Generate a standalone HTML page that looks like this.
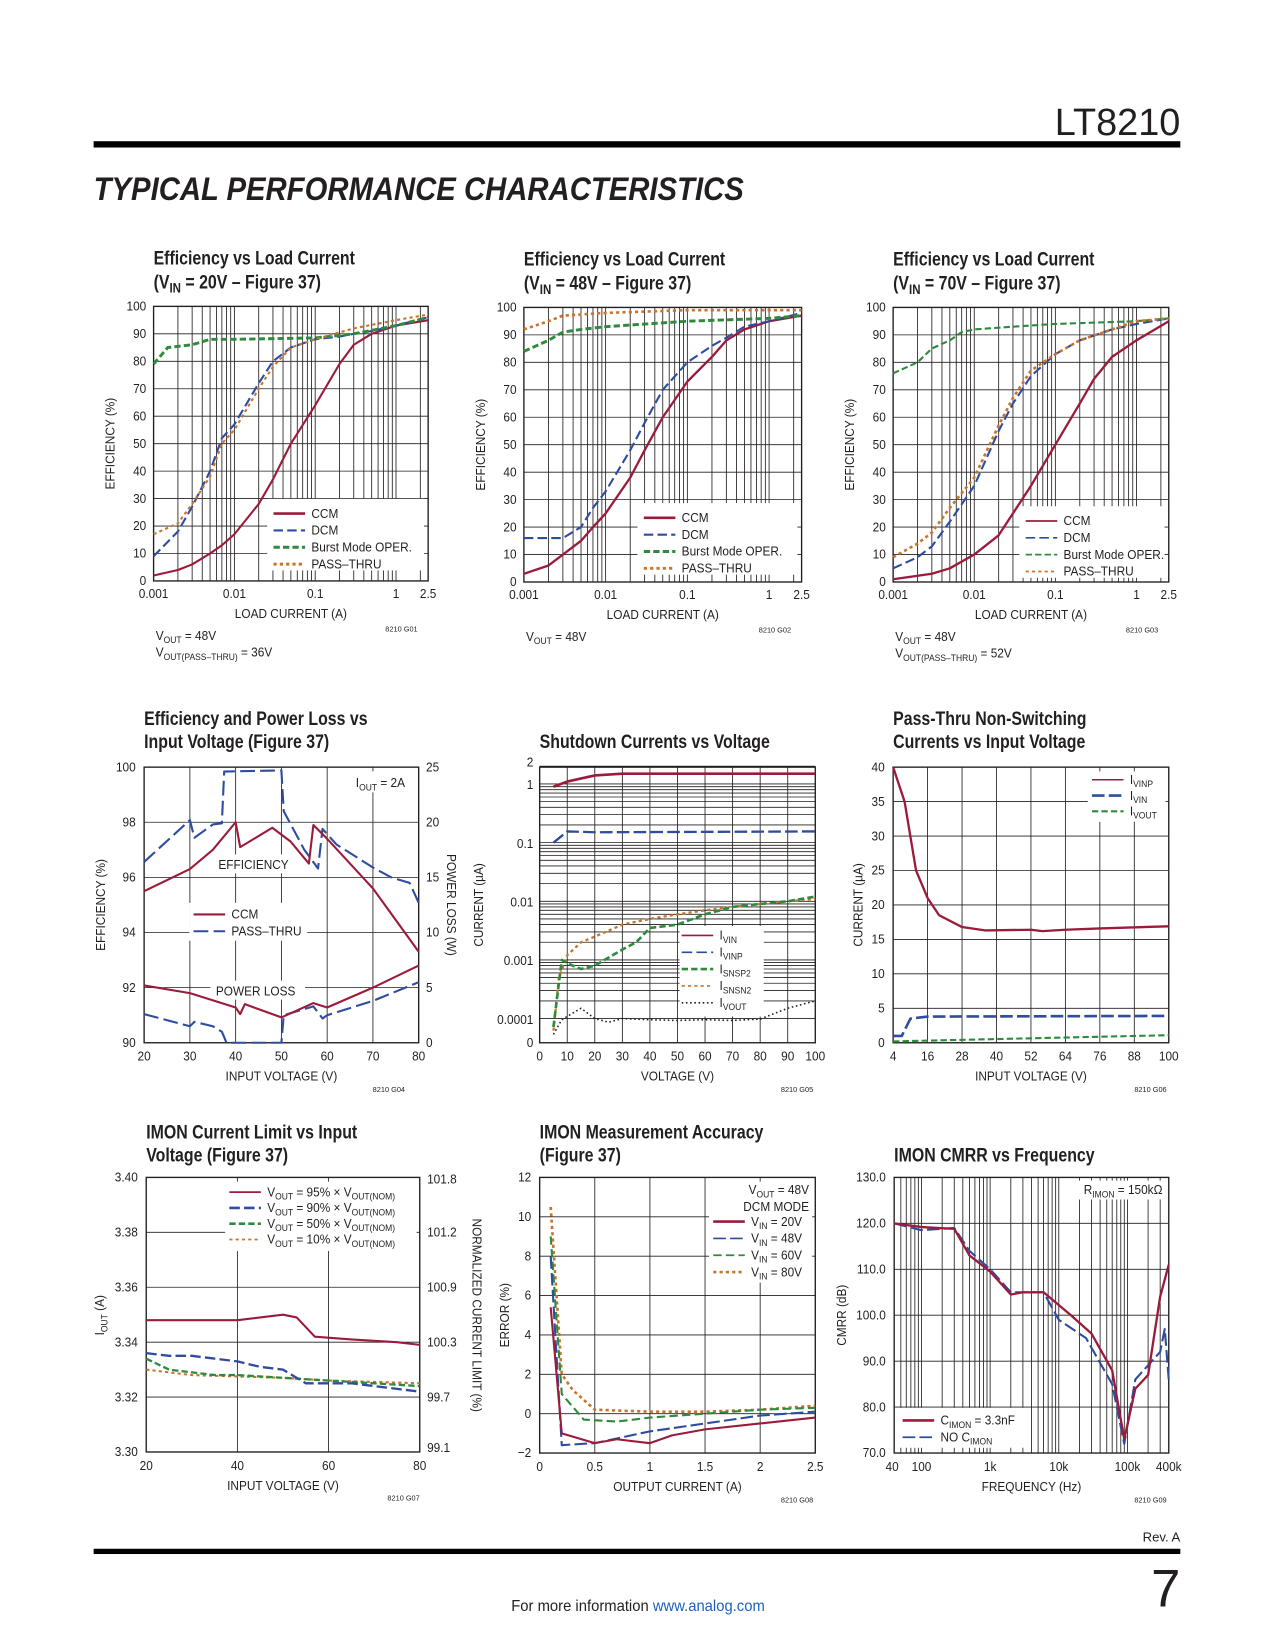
<!DOCTYPE html>
<html><head><meta charset="utf-8">
<style>
html,body{margin:0;padding:0;background:#fff;}
svg{display:block;}
text{font-family:"Liberation Sans Narrow","Liberation Sans",sans-serif;fill:#231f20;}
.t{font-weight:bold;font-size:18px;}
.k{font-size:12.5px;}
.s{font-size:7px;}
</style></head>
<body>
<svg id="pg" width="1275" height="1650" viewBox="0 0 1212 1568" xmlns="http://www.w3.org/2000/svg">
<text x="1122" y="128" text-anchor="end" style="font-size:36px;font-family:'Liberation Sans',sans-serif">LT8210</text>
<rect x="89" y="134" width="1033" height="6" fill="#000"/>
<text x="89" y="190" textLength="618" lengthAdjust="spacingAndGlyphs" style="font-size:31px;font-weight:900;font-style:italic;font-family:'Liberation Sans',sans-serif">TYPICAL PERFORMANCE CHARACTERISTICS</text>
<rect x="89" y="1472" width="1033" height="5" fill="#000"/>
<text x="1122" y="1465" text-anchor="end" class="k">Rev. A</text>
<text x="1122" y="1527" text-anchor="end" style="font-size:50px;font-family:'Liberation Sans',sans-serif">7</text>
<text x="486" y="1531" style="font-size:15px" textLength="241" lengthAdjust="spacingAndGlyphs">For more information <tspan fill="#1f5fbf">www.analog.com</tspan></text>
<g id="charts"></g>
</svg>
<script>
const NS="http://www.w3.org/2000/svg";
const root=document.getElementById('charts');
const RED="#9b1b3b",BLUE="#2e4da0",GREEN="#2e8b3e",ORANGE="#c8742c";

// ---------- data ----------
const c1x=[0.001,0.002,0.003,0.005,0.007,0.01,0.02,0.03,0.05,0.1,0.2,0.3,0.5,1,2.5];
const c1ccm=[2,4,6,10,13,17,28,37,50,64,79,86,90,93,95];
const c1dcm=[9,18,27,40,52,57,72,80,85,88,89,90,91,93,96];
const c1bx=[0.001,0.0015,0.003,0.005,0.01,0.1,0.3,1,2.5];
const c1burst=[79,85,86,88,88,88.5,90,93,96];
const c1px=[0.001,0.002,0.003,0.005,0.007,0.01,0.02,0.03,0.05,0.1,0.3,1,2.5];
const c1pass=[17,21,28,38,50,55,70,78,85,88,92,95,97];
const c2x=[0.001,0.002,0.003,0.005,0.007,0.01,0.02,0.03,0.05,0.1,0.2,0.3,0.5,1,2.5];
const c2ccm=[3,6,10,15,20,25,38,48,60,73,82,88,92,95,97];
const c2dcm=[16,16,16,20,27,33,48,58,70,80,86,89,93,95,98];
const c2bx=[0.001,0.002,0.003,0.005,0.01,0.1,1,2.5];
const c2burst=[84,88,91,92,93,95,96,97];
const c2px=[0.001,0.002,0.003,0.01,0.1,2.5];
const c2pass=[92,95,97,98,99,99];
const c3x=[0.001,0.003,0.005,0.01,0.02,0.03,0.05,0.1,0.2,0.3,0.5,1,2.5];
const c3ccm=[1,3,5,10,17,25,35,50,65,74,82,88,95];
const c3dx=[0.001,0.002,0.003,0.005,0.01,0.02,0.03,0.05,0.1,0.2,0.5,1,2.5];
const c3dcm=[5,9,13,22,35,55,65,75,83,88,92,94,96];
const c3bx=[0.001,0.002,0.003,0.005,0.007,0.01,0.03,0.1,1,2.5];
const c3burst=[76,80,85,88,91,92,93,94,95,96];
const c3pass=[9,14,18,27,38,57,67,77,83,88,92,95,96];
const c4ex=[20,30,35,40,41,45,48,52,56,57,60,70,80];
const c4eff=[95.5,96.3,97,98,97.1,97.5,97.8,97.3,96.5,97.9,97.4,95.6,93.3];
const c4px=[20,30,31,35,37,37.5,50,50.5,55,58,59,62,70,74,78,80];
const c4peff=[16.4,20.2,18.6,19.8,19.9,24.6,24.7,21,17.5,15.8,19.4,18,15.9,15,14.5,12.7];
const c4lx=[20,30,40,41,42,50,57,60,70,80];
const c4loss=[5.2,4.5,3.2,2.6,3.5,2.3,3.6,3.2,5,7];
const c4plx=[20,30,31,35,37,38,50,50.5,57,59,60,70,80];
const c4ploss=[2.6,1.5,1.9,1.5,1,0,0,2.5,3.3,2.2,2.5,3.8,5.5];
const c5ax=[5,10,20,30,100];
const c5vin=[0.9,1.1,1.4,1.5,1.5];
const c5bx=[5,10,20,100];
const c5vinp=[0.1,0.155,0.15,0.155];
const c5gx=[5,8,12,15,20,30,35,40,50,60,70,80,90,100];
const c5snsp=[0.00002,0.001,0.0008,0.0007,0.0008,0.0015,0.002,0.0035,0.004,0.006,0.008,0.009,0.01,0.012];
const c5ox=[5,7,10,15,20,30,40,50,60,70,80,100];
const c5snsn=[0.00001,0.0005,0.0012,0.002,0.0025,0.004,0.005,0.006,0.007,0.008,0.009,0.011];
const c5dx=[5,8,15,20,25,30,40,50,60,70,80,90,100];
const c5vout=[0.000005,0.00008,0.00015,0.0001,0.00005,0.0001,0.00008,0.00007,0.00008,0.00007,0.00009,0.00015,0.0002];
const c6ax=[4,8,12,16,20,28,36,52,56,64,76,100];
const c6vinp=[40,35,25,21,18.5,16.8,16.3,16.4,16.2,16.4,16.6,16.9];
const c6bx=[4,7,10,16,100];
const c6vin=[1,1,3.5,3.8,3.9];
const c6gx=[4,100];
const c6vout=[0.2,1.1];
const c7x=[20,40,45,50,53,57,65,75,80];
const c7v95=[3.348,3.348,3.349,3.350,3.349,3.342,3.341,3.340,3.339];
const c7bx=[20,25,30,40,45,50,55,65,75,80];
const c7v90=[3.336,3.335,3.335,3.333,3.331,3.330,3.325,3.325,3.323,3.322];
const c7gx=[20,25,35,40,60,70,80];
const c7v50=[3.334,3.330,3.328,3.328,3.326,3.325,3.324];
const c7ox=[20,30,50,60,80];
const c7v10=[3.330,3.328,3.327,3.326,3.325];
const c8x=[0.1,0.2,0.5,0.7,1,1.2,1.5,2,2.5];
const c8v20=[5.4,-1,-1.5,-1.3,-1.5,-1.1,-0.8,-0.5,-0.2];
const c8bx=[0.1,0.2,0.5,1,1.5,2,2.5];
const c8v48=[8,-1.6,-1.5,-0.9,-0.5,-0.1,0.1];
const c8gx=[0.1,0.2,0.4,0.7,1,1.5,2,2.5];
const c8v60=[9,1,-0.3,-0.4,-0.2,0,0.2,0.3];
const c8ox=[0.1,0.2,0.3,0.5,1,1.5,2,2.5];
const c8v80=[10.5,2,1.2,0.2,0.1,0.1,0.2,0.4];
const c9x=[40,100,300,500,1000,2000,3000,6000,15000,30000,60000,90000,130000,200000,300000,400000];
const c9cap=[120,119.2,118.8,113,109.5,104.5,105,105,100,96,88,73,84,87,104,111];
const c9bx=[40,100,300,500,1000,2000,6000,10000,25000,60000,90000,130000,300000,350000,400000];
const c9nocap=[120,118.5,119,114,110,105,105,99,95,85,72,86,92,97,86];

// ---------- helpers ----------
function E(tag,a,p){const e=document.createElementNS(NS,tag);for(const k in a)e.setAttribute(k,a[k]);(p||root).appendChild(e);return e;}
function T(x,y,s,cls,anchor,p){
  const sx=cls=='t'?0.84:(cls=='k'?0.9:1);
  const e=E('text',{x:0,y:0,'class':cls||'k','text-anchor':anchor||'start',transform:'translate('+x+','+y+') scale('+sx+',1)'},p);
  e.innerHTML=s;return e;}
function lin(a,b,p,q){return v=>p+(v-a)*(q-p)/(b-a);}
function lg(a,b,p,q){return v=>p+(Math.log10(v)-Math.log10(a))*(q-p)/(Math.log10(b)-Math.log10(a));}
function frame(g,c){
  E('rect',{x:c.x0,y:c.y0,width:c.x1-c.x0,height:c.y1-c.y0,fill:'none',stroke:'#231f20','stroke-width':1.3},g);
}
function vl(g,x,c){const l=E('line',{x1:x,x2:x,y1:c.y0,y2:c.y1,stroke:'#231f20','stroke-width':0.8},g);}
function hl(g,y,c){const l=E('line',{x1:c.x0,x2:c.x1,y1:y,y2:y,stroke:'#231f20','stroke-width':0.8},g);}
function logGrid(g,c,lo,hi,xs){
  for(let d=lo;d<hi*1.0001;d*=10){for(let m=1;m<10;m++){const v=d*m;if(v>lo*1.0001&&v<hi*0.999)vl(g,xs(v),c);}}
}
function series(g,xs,ys,X,Y,color,dash,w,name){
  const d=X.map((v,i)=>(i?'L':'M')+xs(v).toFixed(1)+','+ys(Y[i]).toFixed(1)).join('');
  const p=E('path',{d:d,fill:'none',stroke:color,'stroke-width':w||2,'stroke-dasharray':dash||'none','stroke-linejoin':'round'},g);
  
  
}
function legendLine(g,x,y,color,dash,w,label,name){
  const l=E('line',{x1:x,x2:x+30,y1:y,y2:y,stroke:color,'stroke-width':w||2,'stroke-dasharray':dash||'none'},g);
  
  
  const t=T(x+36,y+4,label,'k','start',g);
  
  
}
function rot(g,s,x,y,deg){const t=E('text',{x:0,y:0,'class':'k','text-anchor':'middle',transform:'translate('+x+','+y+') rotate('+deg+') scale(0.9,1)'},g);t.innerHTML=s;return t;}
function grp(name){const g=E('g',{});return g;}
const DCM='9,4',BUR='6,3',PAS='3,3';

// ---------- efficiency charts 1-3 ----------
const effTicks=[0,10,20,30,40,50,60,70,80,90,100];
const curTicks=[0.001,0.01,0.1,1,2.5];
const curLabels=['0.001','0.01','0.1','1','2.5'];
function effChart(name,c,title2,vtxt,vtxt2,code,D,styleSet){
  const g=grp(name);
  const xs=lg(0.001,2.5,c.x0,c.x1),ys=lin(0,100,c.y1,c.y0);
  logGrid(g,c,0.001,2.5,xs);
  effTicks.forEach(v=>{if(v>0&&v<100)hl(g,ys(v),c);});
  const lb=E('rect',{x:c.lx-6,y:c.ly-14,width:c.x1-c.lx+2,height:68,fill:'#fff'},g);
  
  
  frame(g,c);
  effTicks.forEach(v=>T(c.x0-7,ys(v)+4,String(v),'k','end',g));
  curTicks.forEach((v,i)=>T(xs(v),c.y1+16,curLabels[i],'k','middle',g));
  T((c.x0+c.x1)/2,c.y1+35,'LOAD CURRENT (A)','k','middle',g);
  rot(g,'EFFICIENCY (%)',c.x0-37,(c.y0+c.y1)/2,-90);
  T(c.x0,c.y0-40,'Efficiency vs Load Current','t','start',g);
  T(c.x0,c.y0-17,title2,'t','start',g);
  T(c.x1-10,c.y1+48,code,'s','end',g);
  T(c.x0+2,c.y1+56,vtxt,'k','start',g);
  if(vtxt2)T(c.x0+2,c.y1+72,vtxt2,'k','start',g);
  D.forEach(s=>series(g,xs,ys,s[0],s[1],s[2],s[3],s[4],s[5]));
  const st=styleSet;
  legendLine(g,c.lx,c.ly,RED,'none',st?2.5:1.6,'CCM','legend-ccm');
  legendLine(g,c.lx,c.ly+16,BLUE,DCM,st?2:1.6,'DCM','legend-dcm');
  legendLine(g,c.lx,c.ly+32,GREEN,BUR,st?2.8:1.6,'Burst Mode OPER.','legend-burst');
  legendLine(g,c.lx,c.ly+48,ORANGE,PAS,st?2.8:1.6,'PASS–THRU','legend-pass-thru');
}
effChart('efficiency-20v-chart',{x0:146,y0:291,x1:407,y1:552,lx:260,ly:488},'(V<tspan dy="4" font-size="13">IN</tspan><tspan dy="-4"> = 20V – Figure 37)</tspan>',
 'V<tspan dy="3" font-size="9">OUT</tspan><tspan dy="-3"> = 48V</tspan>','V<tspan dy="3" font-size="9">OUT(PASS–THRU)</tspan><tspan dy="-3"> = 36V</tspan>','8210 G01',
 [[c1x,c1ccm,RED,'none',2,'ccm-line'],[c1x,c1dcm,BLUE,DCM,2,'dcm-line'],[c1bx,c1burst,GREEN,BUR,2.8,'burst-line'],[c1px,c1pass,ORANGE,PAS,2,'pass-thru-line']],true);
effChart('efficiency-48v-chart',{x0:498,y0:292,x1:762,y1:553,lx:612,ly:492},'(V<tspan dy="4" font-size="13">IN</tspan><tspan dy="-4"> = 48V – Figure 37)</tspan>',
 'V<tspan dy="3" font-size="9">OUT</tspan><tspan dy="-3"> = 48V</tspan>',null,'8210 G02',
 [[c2x,c2ccm,RED,'none',2.2,'ccm-line'],[c2x,c2dcm,BLUE,DCM,2,'dcm-line'],[c2bx,c2burst,GREEN,BUR,2.8,'burst-line'],[c2px,c2pass,ORANGE,PAS,2.5,'pass-thru-line']],true);
effChart('efficiency-70v-chart',{x0:849,y0:292,x1:1111,y1:553,lx:975,ly:495},'(V<tspan dy="4" font-size="13">IN</tspan><tspan dy="-4"> = 70V – Figure 37)</tspan>',
 'V<tspan dy="3" font-size="9">OUT</tspan><tspan dy="-3"> = 48V</tspan>','V<tspan dy="3" font-size="9">OUT(PASS–THRU)</tspan><tspan dy="-3"> = 52V</tspan>','8210 G03',
 [[c3x,c3ccm,RED,'none',2.2,'ccm-line'],[c3dx,c3dcm,BLUE,DCM,2,'dcm-line'],[c3bx,c3burst,GREEN,BUR,2,'burst-line'],[c3dx,c3pass,ORANGE,PAS,2.5,'pass-thru-line']],false);

// ---------- chart 4 ----------
const c4xt=[20,30,40,50,60,70,80];
const c4yl=[90,92,94,96,98,100];
const c4yr=[0,5,10,15,20,25];
(function(){
  const c={x0:137,y0:729,x1:398,y1:991};const g=grp('efficiency-power-loss-chart');
  const xs=lin(20,80,c.x0,c.x1),yl=lin(90,100,c.y1,c.y0),yr=lin(0,25,c.y1,c.y0);
  c4xt.forEach(v=>{if(v>20&&v<80)vl(g,xs(v),c);});
  c4yl.forEach(v=>{if(v>90&&v<100)hl(g,yl(v),c);});
  [[180,858,112,36],[200,932,90,18],[205,812,80,18],[328,733,60,20]].forEach(b=>{const r=E('rect',{x:b[0],y:b[1],width:b[2],height:b[3],fill:'#fff'},g);});
  frame(g,c);
  c4xt.forEach(v=>T(xs(v),c.y1+17,String(v),'k','middle',g));
  c4yl.forEach(v=>T(c.x0-8,yl(v)+4,String(v),'k','end',g));
  c4yr.forEach(v=>T(c.x1+7,yr(v)+4,String(v),'k','start',g));
  T((c.x0+c.x1)/2,c.y1+36,'INPUT VOLTAGE (V)','k','middle',g);
  rot(g,'EFFICIENCY (%)',100,860,-90);
  rot(g,'POWER LOSS (W)',425,860,90);
  T(c.x0,c.y0-40,'Efficiency and Power Loss vs','t','start',g);
  T(c.x0,c.y0-18,'Input Voltage (Figure 37)','t','start',g);
  T(c.x1-13,c.y0+19,'I<tspan dy="3" font-size="9">OUT</tspan><tspan dy="-3"> = 2A</tspan>','k','end',g);
  T(241,826,'EFFICIENCY','k','middle',g);
  T(243,946,'POWER LOSS','k','middle',g);
  T(c.x1-13,c.y1+47,'8210 G04','s','end',g);
  series(g,xs,yr,c4px,c4peff,BLUE,'14,5',2,'pass-thru-efficiency-line');
  series(g,xs,yl,c4ex,c4eff,RED,'none',2,'ccm-efficiency-line');
  series(g,xs,yr,c4plx,c4ploss,BLUE,'14,5',2,'pass-thru-power-loss-line');
  series(g,xs,yr,c4lx,c4loss,RED,'none',2,'ccm-power-loss-line');
  legendLine(g,184,869,RED,'none',2,'CCM','legend-ccm');
  legendLine(g,184,885,BLUE,'14,5',2,'PASS–THRU','legend-pass-thru');
})();

// ---------- chart 5 ----------
const c5xt=[0,10,20,30,40,50,60,70,80,90,100];
const c5yv=[2,1,0.1,0.01,0.001,0.0001];
const c5yl=['2','1','0.1','0.01','0.001','0.0001'];
(function(){
  const c={x0:513,y0:729,x1:775,y1:991};const g=grp('shutdown-currents-chart');
  const xs=lin(0,100,c.x0,c.x1);
  const lys=lg(0.0001,1,968,745);
  const ys=v=>v>=0.0001?lys(v):991-(991-968)*Math.max(0,Math.log10(v/1e-6))/2;
  c5xt.forEach(v=>{if(v>0&&v<100)vl(g,xs(v),c);});
  for(let d=0.0001;d<1.5;d*=10){for(let m=1;m<10;m++){const v=d*m;if(v<=2)hl(g,ys(v),c);}}
  hl(g,ys(2),c);
  const r=E('rect',{x:646,y:880,width:80,height:86,fill:'#fff'},g);
  frame(g,c);
  c5xt.forEach(v=>T(xs(v),c.y1+17,String(v),'k','middle',g));
  c5yv.forEach((v,i)=>T(c.x0-6,ys(v)+(i==0?0:5),c5yl[i],'k','end',g));
  T(c.x0-6,c.y1+4,'0','k','end',g);
  T((c.x0+c.x1)/2,c.y1+36,'VOLTAGE (V)','k','middle',g);
  rot(g,'CURRENT (µA)',459,860,-90);
  T(c.x0,c.y0-18,'Shutdown Currents vs Voltage','t','start',g);
  T(c.x1-2,c.y1+47,'8210 G05','s','end',g);
  series(g,xs,ys,c5ax,c5vin,RED,'none',2.5,'ivin-line');
  series(g,xs,ys,c5bx,c5vinp,BLUE,'12,4',2.2,'ivinp-line');
  series(g,xs,ys,c5ox,c5snsn,ORANGE,PAS,2.2,'isnsn2-line');
  series(g,xs,ys,c5gx,c5snsp,GREEN,BUR,2.5,'isnsp2-line');
  series(g,xs,ys,c5dx,c5vout,'#231f20','1.5,2.5',1.5,'ivout-line');
  legendLine(g,648,889,RED,'none',1.5,'I<tspan dy="3" font-size="9">VIN</tspan>','legend-ivin');
  legendLine(g,648,905,BLUE,'10,4',1.5,'I<tspan dy="3" font-size="9">VINP</tspan>','legend-ivinp');
  legendLine(g,648,921,GREEN,BUR,2.5,'I<tspan dy="3" font-size="9">SNSP2</tspan>','legend-isnsp2');
  legendLine(g,648,937,ORANGE,PAS,1.5,'I<tspan dy="3" font-size="9">SNSN2</tspan>','legend-isnsn2');
  legendLine(g,648,953,'#231f20','1.5,2.5',1.5,'I<tspan dy="3" font-size="9">VOUT</tspan>','legend-ivout');
})();

// ---------- chart 6 ----------
const c6xt=[4,16,28,40,52,64,76,88,100];
const c6yt=[0,5,10,15,20,25,30,35,40];
(function(){
  const c={x0:849,y0:729,x1:1111,y1:991};const g=grp('pass-thru-currents-chart');
  const xs=lin(4,100,c.x0,c.x1),ys=lin(0,40,c.y1,c.y0);
  c6xt.forEach(v=>{if(v>4&&v<100)vl(g,xs(v),c);});
  c6yt.forEach(v=>{if(v>0&&v<40)hl(g,ys(v),c);});
  const r=E('rect',{x:1034,y:733,width:74,height:48,fill:'#fff'},g);
  frame(g,c);
  c6xt.forEach(v=>T(xs(v),c.y1+17,String(v),'k','middle',g));
  c6yt.forEach(v=>T(c.x0-8,ys(v)+4,String(v),'k','end',g));
  T((c.x0+c.x1)/2,c.y1+36,'INPUT VOLTAGE (V)','k','middle',g);
  rot(g,'CURRENT (µA)',820,860,-90);
  T(c.x0,c.y0-40,'Pass-Thru Non-Switching','t','start',g);
  T(c.x0,c.y0-18,'Currents vs Input Voltage','t','start',g);
  T(c.x1-2,c.y1+47,'8210 G06','s','end',g);
  series(g,xs,ys,c6ax,c6vinp,RED,'none',2.2,'ivinp-line');
  series(g,xs,ys,c6bx,c6vin,BLUE,'12,4',2.5,'ivin-line');
  series(g,xs,ys,c6gx,c6vout,GREEN,BUR,2,'ivout-line');
  legendLine(g,1038,741,RED,'none',1.5,'I<tspan dy="3" font-size="9">VINP</tspan>','legend-ivinp');
  legendLine(g,1038,756,BLUE,'12,4',2.5,'I<tspan dy="3" font-size="9">VIN</tspan>','legend-ivin');
  legendLine(g,1038,771,GREEN,BUR,2,'I<tspan dy="3" font-size="9">VOUT</tspan>','legend-ivout');
})();

// ---------- chart 7 ----------
const c7xt=[20,40,60,80];
const c7yt=[3.30,3.32,3.34,3.36,3.38,3.40];
const c7yr=['99.1','99.7','100.3','100.9','101.2','101.8'];
(function(){
  const c={x0:139,y0:1119,x1:399,y1:1380};const g=grp('imon-current-limit-chart');
  const xs=lin(20,80,c.x0,c.x1),ys=lin(3.30,3.40,c.y1,c.y0);
  c7xt.forEach(v=>{if(v>20&&v<80)vl(g,xs(v),c);});
  c7yt.forEach(v=>{if(v>3.3&&v<3.4)hl(g,ys(v),c);});
  const r=E('rect',{x:214,y:1123,width:182,height:66,fill:'#fff'},g);
  frame(g,c);
  c7xt.forEach(v=>T(xs(v),c.y1+17,String(v),'k','middle',g));
  c7yt.forEach(v=>T(c.x0-8,ys(v)+4,v.toFixed(2),'k','end',g));
  c7yt.forEach((v,i)=>T(c.x1+7,ys(v)+(i==0?0:4)+(i==5?2:0),c7yr[i],'k','start',g));
  T((c.x0+c.x1)/2,c.y1+36,'INPUT VOLTAGE (V)','k','middle',g);
  rot(g,'I<tspan dy="3" font-size="9">OUT</tspan><tspan dy="-3"> (A)</tspan>',99,1250,-90);
  rot(g,'NORMALIZED CURRENT LIMIT (%)',449,1250,90);
  T(c.x0,c.y0-37,'IMON Current Limit vs Input','t','start',g);
  T(c.x0,c.y0-15,'Voltage (Figure 37)','t','start',g);
  T(c.x1,c.y1+46,'8210 G07','s','end',g);
  series(g,xs,ys,c7ox,c7v10,ORANGE,PAS,2,'vout-10pct-line');
  series(g,xs,ys,c7gx,c7v50,GREEN,BUR,2.2,'vout-50pct-line');
  series(g,xs,ys,c7bx,c7v90,BLUE,'10,4',2.2,'vout-90pct-line');
  series(g,xs,ys,c7x,c7v95,RED,'none',2,'vout-95pct-line');
  legendLine(g,218,1133,RED,'none',1.6,'V<tspan dy="3" font-size="9">OUT</tspan><tspan dy="-3"> = 95% × V</tspan><tspan dy="3" font-size="9">OUT(NOM)</tspan>','legend-95pct');
  legendLine(g,218,1148,BLUE,'10,4',2.5,'V<tspan dy="3" font-size="9">OUT</tspan><tspan dy="-3"> = 90% × V</tspan><tspan dy="3" font-size="9">OUT(NOM)</tspan>','legend-90pct');
  legendLine(g,218,1163,GREEN,BUR,2.5,'V<tspan dy="3" font-size="9">OUT</tspan><tspan dy="-3"> = 50% × V</tspan><tspan dy="3" font-size="9">OUT(NOM)</tspan>','legend-50pct');
  legendLine(g,218,1178,ORANGE,PAS,1.6,'V<tspan dy="3" font-size="9">OUT</tspan><tspan dy="-3"> = 10% × V</tspan><tspan dy="3" font-size="9">OUT(NOM)</tspan>','legend-10pct');
})();

// ---------- chart 8 ----------
const c8xt=[0,0.5,1,1.5,2,2.5];
const c8xl=['0','0.5','1','1.5','2','2.5'];
const c8yt=[-2,0,2,4,6,8,10,12];
(function(){
  const c={x0:513,y0:1119,x1:775,y1:1381};const g=grp('imon-accuracy-chart');
  const xs=lin(0,2.5,c.x0,c.x1),ys=lin(-2,12,c.y1,c.y0);
  c8xt.forEach(v=>{if(v>0&&v<2.5)vl(g,xs(v),c);});
  c8yt.forEach(v=>{if(v>-2&&v<12)hl(g,ys(v),c);});
  const r=E('rect',{x:674,y:1123,width:98,height:96,fill:'#fff'},g);
  frame(g,c);
  c8xt.forEach((v,i)=>T(xs(v),c.y1+17,c8xl[i],'k','middle',g));
  c8yt.forEach(v=>T(c.x0-8,ys(v)+4,v<0?'−'+(-v):String(v),'k','end',g));
  T((c.x0+c.x1)/2,c.y1+36,'OUTPUT CURRENT  (A)','k','middle',g);
  rot(g,'ERROR (%)',484,1250,-90);
  T(c.x0,c.y0-37,'IMON Measurement Accuracy','t','start',g);
  T(c.x0,c.y0-15,'(Figure 37)','t','start',g);
  T(c.x1-2,c.y1+47,'8210 G08','s','end',g);
  T(c.x1-6,c.y0+16,'V<tspan dy="3" font-size="9">OUT</tspan><tspan dy="-3"> = 48V</tspan>','k','end',g);
  T(c.x1-6,c.y0+32,'DCM MODE','k','end',g);
  series(g,xs,ys,c8ox,c8v80,ORANGE,PAS,2.5,'vin-80v-line');
  series(g,xs,ys,c8gx,c8v60,GREEN,'8,4',2,'vin-60v-line');
  series(g,xs,ys,c8bx,c8v48,BLUE,'12,4',2,'vin-48v-line');
  series(g,xs,ys,c8x,c8v20,RED,'none',2,'vin-20v-line');
  legendLine(g,678,1161,RED,'none',2.5,'V<tspan dy="3" font-size="9">IN</tspan><tspan dy="-3"> = 20V</tspan>','legend-vin-20v');
  legendLine(g,678,1177,BLUE,'12,4',1.6,'V<tspan dy="3" font-size="9">IN</tspan><tspan dy="-3"> = 48V</tspan>','legend-vin-48v');
  legendLine(g,678,1193,GREEN,'8,4',1.6,'V<tspan dy="3" font-size="9">IN</tspan><tspan dy="-3"> = 60V</tspan>','legend-vin-60v');
  legendLine(g,678,1209,ORANGE,PAS,2.5,'V<tspan dy="3" font-size="9">IN</tspan><tspan dy="-3"> = 80V</tspan>','legend-vin-80v');
})();

// ---------- chart 9 ----------
const c9xt=[40,100,1000,10000,100000,400000];
const c9xl=['40','100','1k','10k','100k','400k'];
const c9yt=[70,80,90,100,110,120,130];
(function(){
  const c={x0:850,y0:1119,x1:1111,y1:1381};const g=grp('imon-cmrr-chart');
  const xs=lg(40,400000,c.x0,c.x1),ys=lin(70,130,c.y1,c.y0);
  for(let d=10;d<400000;d*=10){for(let m=1;m<10;m++){const v=d*m;if(v>40&&v<400000)vl(g,xs(v),c);}}
  c9yt.forEach(v=>{if(v>70&&v<130)hl(g,ys(v),c);});
  [[1014,1122,95,18],[854,1338,120,38]].forEach(b=>{const r=E('rect',{x:b[0],y:b[1],width:b[2],height:b[3],fill:'#fff'},g);});
  frame(g,c);
  c9xt.forEach((v,i)=>T(xs(v)+(i==0?-2:0),c.y1+17,c9xl[i],'k','middle',g));
  c9yt.forEach(v=>T(c.x0-8,ys(v)+4,v.toFixed(1),'k','end',g));
  T((c.x0+c.x1)/2,c.y1+36,'FREQUENCY (Hz)','k','middle',g);
  rot(g,'CMRR (dB)',804,1250,-90);
  T(c.x0,c.y0-15,'IMON CMRR vs Frequency','t','start',g);
  T(c.x1-2,c.y1+47,'8210 G09','s','end',g);
  T(c.x1-6,c.y0+16,'R<tspan dy="3" font-size="9">IMON</tspan><tspan dy="-3"> = 150kΩ</tspan>','k','end',g);
  series(g,xs,ys,c9bx,c9nocap,BLUE,'12,4',2,'no-cimon-line');
  series(g,xs,ys,c9x,c9cap,RED,'none',2.2,'cimon-3n3-line');
  legendLine(g,858,1350,RED,'none',2.5,'C<tspan dy="3" font-size="9">IMON</tspan><tspan dy="-3"> = 3.3nF</tspan>','legend-cimon');
  legendLine(g,858,1366,BLUE,'12,4',1.6,'NO C<tspan dy="3" font-size="9">IMON</tspan>','legend-no-cimon');
})();
</script>
</body></html>
